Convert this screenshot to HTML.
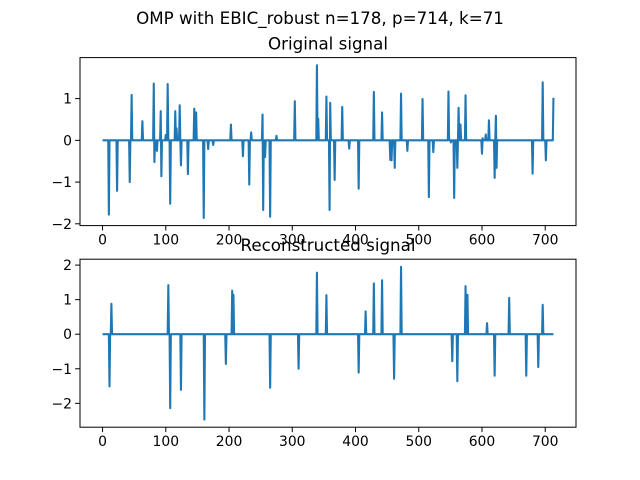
<!DOCTYPE html>
<html><head><meta charset="utf-8"><style>
body{margin:0;background:#fff}
svg{display:block;font-family:"DejaVu Sans","Liberation Sans",sans-serif}
</style></head><body>
<svg id="fig" width="640" height="480" xmlns="http://www.w3.org/2000/svg">
<rect width="640" height="480" fill="#fff"/>
<text x="320" y="24" font-size="16.7" text-anchor="middle">OMP with EBIC_robust n=178, p=714, k=71</text>
<g id="ax1"></g>
<g id="ax2"></g>
</svg>
<script>
const nPoints = 714;
const origIdx = [10,23,43,46,63,81,82,86,92,93,100,103,107,115,117,122,124,135,145,148,160,167,175,203,222,232,235,253,254,257,265,275,304,339,341,354,359,360,367,379,390,405,429,442,455,457,462,472,482,506,516,523,547,551,556,561,563,566,574,600,601,606,611,620,622,623,680,696,701,713];
const origVal = [-1.78,-1.21,-1.0,1.09,0.46,1.36,-0.52,-0.25,0.7,-0.86,0.13,1.35,-1.52,0.7,0.29,0.84,-0.6,-0.81,0.76,0.67,-1.86,-0.21,-0.11,0.38,-0.38,-1.06,0.19,0.62,-1.67,-0.4,-1.83,0.11,0.94,1.8,0.52,1.05,-1.67,0.9,-0.95,0.8,-0.2,-1.16,1.16,0.67,-0.47,-0.48,-0.66,1.12,-0.25,0.99,-1.36,-0.28,1.17,-0.05,-1.38,-0.66,0.78,0.38,1.08,-0.32,0.05,0.14,0.48,-0.9,0.59,-0.66,-0.8,1.39,-0.48,1.02];
const recIdx = [11,14,104,107,124,161,195,205,207,265,310,339,354,405,416,429,442,461,472,553,561,574,577,608,620,643,670,689,696];
const recVal = [-1.51,0.88,1.42,-2.14,-1.61,-2.47,-0.86,1.26,1.14,-1.55,-1.0,1.78,1.13,-1.11,0.66,1.47,1.56,-1.29,1.95,-0.78,-1.36,1.39,1.14,0.32,-1.2,1.05,-1.2,-0.95,0.85];
const xTicks = [0,100,200,300,400,500,600,700];
const yTicks1 = [-2,-1,0,1];
const yTicks2 = [-2,-1,0,1,2];

const NS="http://www.w3.org/2000/svg";
function mk(tag,attrs,parent){const e=document.createElementNS(NS,tag);for(const k in attrs)e.setAttribute(k,attrs[k]);parent.appendChild(e);return e;}
function series(idx,val){const a=new Array(nPoints).fill(0);idx.forEach((i,j)=>{a[i]=val[j];});return a;}

function drawAxes(g,top,title,idx,val,yTicks,nm){
  const L=80,R=576,T=top,B=top+168;
  const data=series(idx,val);
  const mn=Math.min(...data),mx=Math.max(...data),pad=(mx-mn)*0.05;
  const y0=mn-pad,y1=mx+pad;
  const xm=(nPoints-1)*0.05,x0=-xm,x1=nPoints-1+xm;
  const X=v=>L+(v-x0)/(x1-x0)*(R-L);
  const Y=v=>B-(v-y0)/(y1-y0)*(B-T);
  const t=mk('text',{x:(L+R)/2,y:T-8,'font-size':16.7,'text-anchor':'middle'},g);
  t.textContent=title;
  
  
  let d='';
  data.forEach((v,i)=>{d+=(i?'L':'M')+X(i).toFixed(2)+' '+Y(v).toFixed(2);});
  const p=mk('path',{d:d,fill:'none',stroke:'#1f77b4','stroke-width':2.08,'stroke-linejoin':'round'},g);
  
  
  const fr=mk('rect',{x:L,y:T,width:R-L,height:B-T,fill:'none',stroke:'#000','stroke-width':1},g);
  
  
  xTicks.forEach(v=>{
    const x=X(v);
    mk('line',{x1:x,x2:x,y1:B,y2:B+4.9,stroke:'#000','stroke-width':1},g);
    const tx=mk('text',{x:x,y:B+19,'font-size':13.9,'text-anchor':'middle'},g);
    tx.textContent=v;
    
    
  });
  yTicks.forEach(v=>{
    const y=Y(v);
    mk('line',{x1:L-4.9,x2:L,y1:y,y2:y,stroke:'#000','stroke-width':1},g);
    const ty=mk('text',{x:L-8,y:y+5,'font-size':13.9,'text-anchor':'end'},g);
    ty.textContent=(v<0?'\u2212'+(-v):v);
    
    
  });
}
drawAxes(document.getElementById('ax1'),57.6,'Original signal',origIdx,origVal,yTicks1,'original-signal');
drawAxes(document.getElementById('ax2'),259.2,'Reconstructed signal',recIdx,recVal,yTicks2,'reconstructed-signal');
</script>
</body></html>
